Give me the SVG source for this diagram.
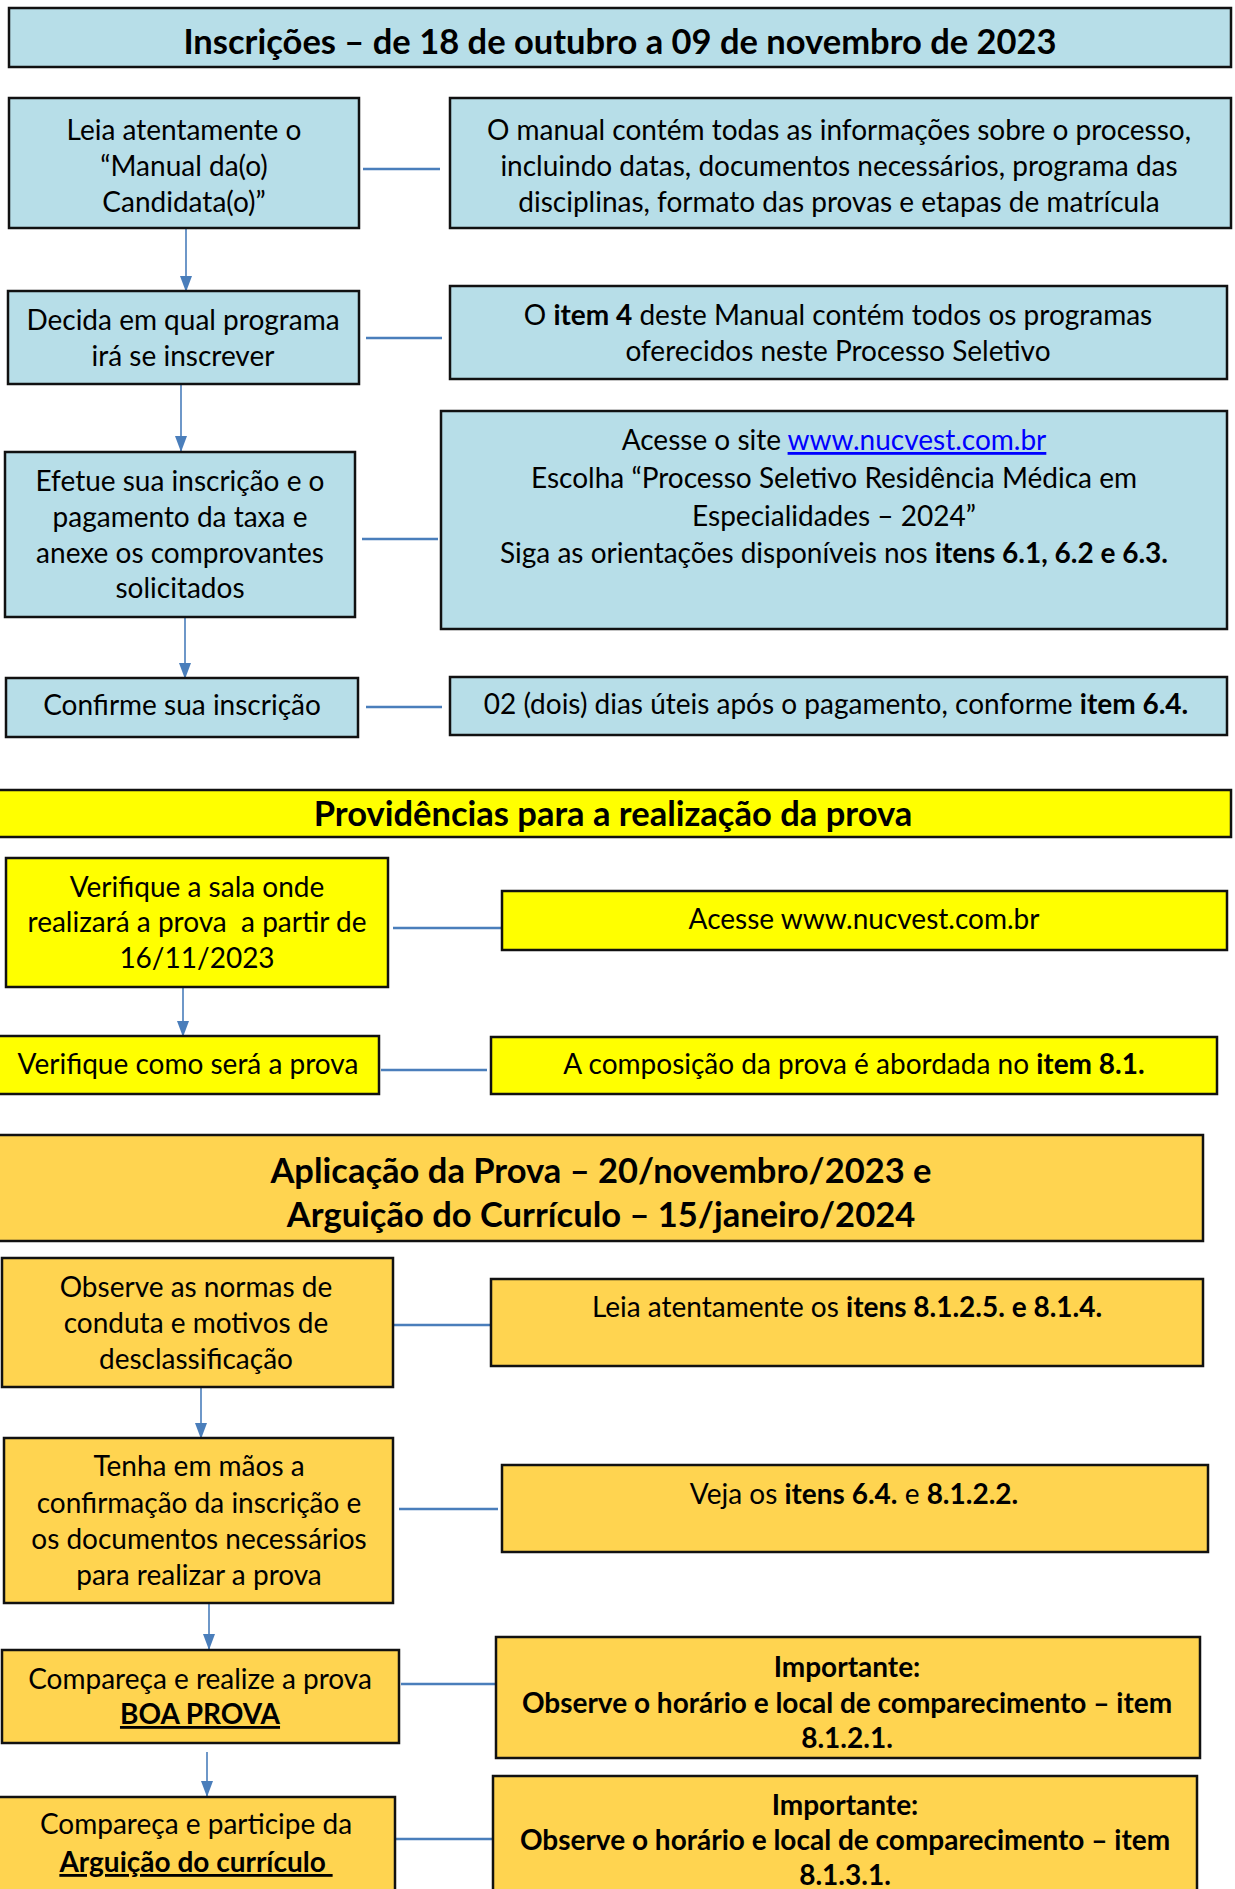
<svg xmlns="http://www.w3.org/2000/svg" width="1235" height="1889" viewBox="0 0 1235 1889">
<style>
.bx{stroke:#111;stroke-width:2.5}
.blue{fill:#B7DEE8}
.yel{fill:#FFFF00}
.gold{fill:#FFD450}
text{font-family:Lato,"Liberation Sans",sans-serif;font-size:28px;fill:#000;text-anchor:middle}
.h{font-weight:bold;font-size:34.5px}
.b{font-weight:bold}
.u{text-decoration:underline}
.link{fill:#0000FF;text-decoration:underline}
.conn{stroke:#4A7EBB;stroke-width:2.5;fill:none}
.arr{stroke:#4A7EBB;stroke-width:1.6;fill:none;marker-end:url(#ah)}
</style>
<defs>
<marker id="ah" viewBox="0 0 16 12" refX="16" refY="6" markerWidth="16" markerHeight="12" markerUnits="userSpaceOnUse" orient="auto">
<path d="M0,0 L16,6 L0,12 z" fill="#4A7EBB"/>
</marker>
</defs>
<rect width="1235" height="1889" fill="#fff"/>

<g id="connectors">
<line class="conn" x1="363" y1="169" x2="440" y2="169"/>
<line class="conn" x1="366" y1="338" x2="442" y2="338"/>
<line class="conn" x1="362" y1="539" x2="438" y2="539"/>
<line class="conn" x1="366" y1="707" x2="442" y2="707"/>
<line class="conn" x1="393" y1="928" x2="502" y2="928"/>
<line class="conn" x1="381" y1="1070" x2="487" y2="1070"/>
<line class="conn" x1="393" y1="1325" x2="490" y2="1325"/>
<line class="conn" x1="399" y1="1509" x2="498" y2="1509"/>
<line class="conn" x1="401" y1="1684" x2="496" y2="1684"/>
<line class="conn" x1="395" y1="1839" x2="493" y2="1839"/>
<line class="arr" x1="186" y1="229" x2="186" y2="292"/>
<line class="arr" x1="181" y1="385" x2="181" y2="452"/>
<line class="arr" x1="185" y1="618" x2="185" y2="679"/>
<line class="arr" x1="183" y1="988" x2="183" y2="1037"/>
<line class="arr" x1="201" y1="1388" x2="201" y2="1439"/>
<line class="arr" x1="209" y1="1604" x2="209" y2="1650"/>
<line class="arr" x1="207" y1="1752" x2="207" y2="1797"/>
</g>

<g id="header1">
<rect class="bx blue" x="9" y="8" width="1222" height="59"/>
<text class="h" x="620" y="54">Inscrições – de 18 de outubro a 09 de novembro de 2023</text>
</g>

<g id="a1">
<rect class="bx blue" x="9" y="98" width="350" height="130"/>
<text x="184" y="140">Leia atentamente o</text>
<text x="184" y="176">“Manual da(o)</text>
<text x="184" y="212">Candidata(o)”</text>
</g>
<g id="b1">
<rect class="bx blue" x="450" y="98" width="781" height="130"/>
<text x="839" y="140">O manual contém todas as informações sobre o processo,</text>
<text x="839" y="176">incluindo datas, documentos necessários, programa das</text>
<text x="839" y="212">disciplinas, formato das provas e etapas de matrícula</text>
</g>

<g id="a2">
<rect class="bx blue" x="8" y="291" width="351" height="93"/>
<text x="183" y="330">Decida em qual programa</text>
<text x="183" y="366">irá se inscrever</text>
</g>
<g id="b2">
<rect class="bx blue" x="450" y="286" width="777" height="93"/>
<text x="838" y="325">O <tspan class="b">item 4</tspan> deste Manual contém todos os programas</text>
<text x="838" y="361">oferecidos neste Processo Seletivo</text>
</g>

<g id="a3">
<rect class="bx blue" x="5" y="452" width="350" height="165"/>
<text x="180" y="491">Efetue sua inscrição e o</text>
<text x="180" y="527">pagamento da taxa e</text>
<text x="180" y="563">anexe os comprovantes</text>
<text x="180" y="598">solicitados</text>
</g>
<g id="b3">
<rect class="bx blue" x="441" y="411" width="786" height="218"/>
<text x="834" y="450">Acesse o site <tspan class="link">www.nucvest.com.br</tspan></text>
<text x="834" y="488">Escolha “Processo Seletivo Residência Médica em</text>
<text x="834" y="526">Especialidades – 2024”</text>
<text x="834" y="563">Siga as orientações disponíveis nos <tspan class="b">itens 6.1, 6.2 e 6.3.</tspan></text>
</g>

<g id="a4">
<rect class="bx blue" x="6" y="678" width="352" height="59"/>
<text x="182" y="715">Confirme sua inscrição</text>
</g>
<g id="b4">
<rect class="bx blue" x="450" y="677" width="777" height="58"/>
<text x="836" y="714">02 (dois) dias úteis após o pagamento, conforme <tspan class="b">item 6.4.</tspan></text>
</g>

<g id="header2">
<rect class="bx yel" x="-2" y="790" width="1233" height="47"/>
<text class="h" x="613" y="826">Providências para a realização da prova</text>
</g>

<g id="c1">
<rect class="bx yel" x="6" y="858" width="382" height="129"/>
<text x="197" y="897">Verifique a sala onde</text>
<text x="197" y="932" xml:space="preserve">realizará a prova  a partir de</text>
<text x="197" y="968">16/11/2023</text>
</g>
<g id="d1">
<rect class="bx yel" x="502" y="891" width="725" height="59"/>
<text x="864" y="929">Acesse www.nucvest.com.br</text>
</g>

<g id="c2">
<rect class="bx yel" x="-2" y="1036" width="381" height="58"/>
<text x="188" y="1074">Verifique como será a prova</text>
</g>
<g id="d2">
<rect class="bx yel" x="491" y="1037" width="726" height="57"/>
<text x="854" y="1074">A composição da prova é abordada no <tspan class="b">item 8.1.</tspan></text>
</g>

<g id="header3">
<rect class="bx gold" x="-2" y="1135" width="1205" height="106"/>
<text class="h" x="601" y="1183">Aplicação da Prova – 20/novembro/2023 e</text>
<text class="h" x="601" y="1227">Arguição do Currículo – 15/janeiro/2024</text>
</g>

<g id="e1">
<rect class="bx gold" x="2" y="1258" width="391" height="129"/>
<text x="196" y="1297">Observe as normas de</text>
<text x="196" y="1333">conduta e motivos de</text>
<text x="196" y="1369">desclassificação</text>
</g>
<g id="f1">
<rect class="bx gold" x="491" y="1279" width="712" height="87"/>
<text x="847" y="1317">Leia atentamente os <tspan class="b">itens 8.1.2.5. e 8.1.4.</tspan></text>
</g>

<g id="e2">
<rect class="bx gold" x="4" y="1438" width="389" height="165"/>
<text x="199" y="1476">Tenha em mãos a</text>
<text x="199" y="1513">confirmação da inscrição e</text>
<text x="199" y="1549">os documentos necessários</text>
<text x="199" y="1585">para realizar a prova</text>
</g>
<g id="f2">
<rect class="bx gold" x="502" y="1465" width="706" height="87"/>
<text x="854" y="1504">Veja os <tspan class="b">itens 6.4.</tspan> e <tspan class="b">8.1.2.2.</tspan></text>
</g>

<g id="e3">
<rect class="bx gold" x="2" y="1650" width="397" height="93"/>
<text x="200" y="1689">Compareça e realize a prova</text>
<text x="200" y="1724" class="b u">BOA PROVA</text>
</g>
<g id="f3">
<rect class="bx gold" x="496" y="1637" width="704" height="121"/>
<text x="847" y="1677" class="b">Importante:</text>
<text x="847" y="1713" class="b">Observe o horário e local de comparecimento – item</text>
<text x="847" y="1748" class="b">8.1.2.1.</text>
</g>

<g id="e4">
<rect class="bx gold" x="-2" y="1797" width="397" height="110"/>
<text x="196" y="1834">Compareça e participe da</text>
<text x="196" y="1872" class="b u" xml:space="preserve">Arguição do currículo </text>
</g>
<g id="f4">
<rect class="bx gold" x="493" y="1776" width="704" height="130"/>
<text x="845" y="1815" class="b">Importante:</text>
<text x="845" y="1850" class="b">Observe o horário e local de comparecimento – item</text>
<text x="845" y="1885" class="b">8.1.3.1.</text>
</g>
</svg>
